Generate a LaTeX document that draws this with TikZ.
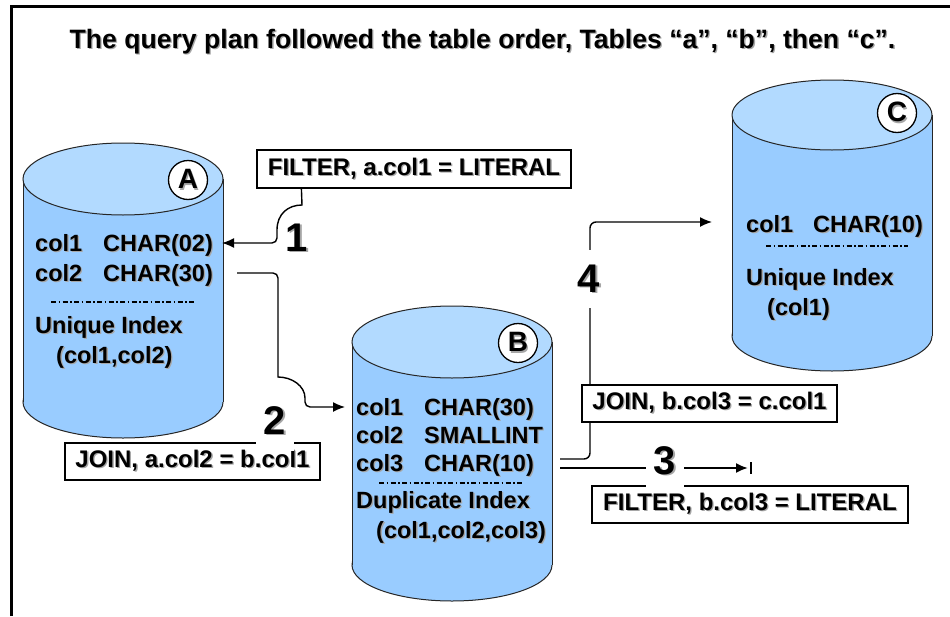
\documentclass[tikz,border=0pt]{standalone}
\usepackage{fontspec}
\setmainfont{Liberation Sans}
\usetikzlibrary{arrows.meta,calc}
\definecolor{cylbody}{RGB}{153,204,255}
\definecolor{cyltop}{RGB}{178,218,255}
\newcommand\shd[1]{\leavevmode\rlap{\kern1.3pt\raisebox{-1.3pt}{\color{black!35}#1}}#1}
\newcommand\drawcyl[5]{%
  \filldraw[fill=cylbody,draw=black!85,line width=1pt] (#1,#3) ellipse[x radius=#4pt,y radius=#5pt];
  \fill[cylbody] (#1-#4,#2) rectangle (#1+#4,#3);
  \draw[black!85,line width=1pt] (#1-#4,#2) -- (#1-#4,#3) (#1+#4,#2) -- (#1+#4,#3);
  \filldraw[fill=cyltop,draw=black!85,line width=1pt] (#1,#2) ellipse[x radius=#4pt,y radius=#5pt];
}
\begin{document}
\begin{tikzpicture}[x=1pt,y=-1pt,
  every node/.style={font=\bfseries},
  lbl/.style={draw=black,line width=1.2pt,fill=white,minimum height=37pt,inner sep=0pt,font=\fontsize{24}{26}\selectfont\bfseries},
  ctxt/.style={anchor=base west,inner sep=0pt,font=\fontsize{23.5}{26}\selectfont\bfseries},
  numl/.style={inner xsep=8pt,inner ysep=15pt,font=\fontsize{40}{44}\selectfont\bfseries},
  numf/.style={numl,fill=white},
  tag/.style={circle,draw=black,line width=1.3pt,fill=white,minimum size=39pt,inner sep=0pt,font=\fontsize{28}{30}\selectfont\bfseries},
  conn/.style={line width=1.4pt},
  tip/.style={-{Latex[length=12pt,width=10pt]}},
  idx/.style={line width=1.3pt,dash pattern=on 5pt off 2.5pt on 1.5pt off 2.5pt}
]
\useasboundingbox (0,0) rectangle (950,616);
\fill[white] (0,0) rectangle (950,616);
\draw[line width=3pt] (11,616) -- (11,6) -- (950,6);

\node (title) at (482.5,42) {\fontsize{26.6}{30}\selectfont\bfseries\shd{The query plan followed the table order, Tables “a”, “b”, then “c”.}};

% cylinders
\drawcyl{123}{179}{402}{100}{36}
\drawcyl{452}{342}{565}{100}{36}
\drawcyl{832}{115}{336}{100}{35}

\node[tag] (tA) at (188,180) {\shd{A}};
\node[tag] (tB) at (518,343) {\shd{B}};
\node[tag] (tC) at (897,113) {\shd{C}};

% table A
\node[ctxt] (a-l1) at (35,251) {\shd{\makebox[68pt][l]{col1}CHAR(02)}};
\node[ctxt] (a-l2) at (35,281) {\shd{\makebox[68pt][l]{col2}CHAR(30)}};
\draw[idx] (51,302) -- (194,302);
\node[ctxt] (a-l3) at (35,333) {\shd{Unique Index}};
\node[ctxt] (a-l4) at (56,363) {\shd{(col1,col2)}};

% table B
\node[ctxt] (b-l1) at (356,415) {\shd{\makebox[68pt][l]{col1}CHAR(30)}};
\node[ctxt] (b-l2) at (356,443) {\shd{\makebox[68pt][l]{col2}SMALLINT}};
\node[ctxt] (b-l3) at (356,471) {\shd{\makebox[68pt][l]{col3}CHAR(10)}};
\draw[idx] (379,483) -- (523,483);
\node[ctxt] (b-l4) at (356,508) {\shd{Duplicate Index}};
\node[ctxt] (b-l5) at (376,538) {\shd{(col1,col2,col3)}};

% table C
\node[ctxt] (c-l1) at (746,232) {\shd{\makebox[67pt][l]{col1}CHAR(10)}};
\draw[idx] (766,246) -- (908,246);
\node[ctxt] (c-l2) at (746,285) {\shd{Unique Index}};
\node[ctxt] (c-l3) at (767,315) {\shd{(col1)}};

% ports
\coordinate (a1) at (222,243);
\coordinate (a2) at (237,273);
\coordinate (b1) at (345,407);
\coordinate (b3) at (560,468);
\coordinate (b4) at (560,459);
\coordinate (c1) at (712,222);
\coordinate (e3) at (748,468);

% number 1 (drawn before its connector)
\node[numl] (n1) at (297,238) {\shd{1}};

% label box f1 (named first for its connector)
\path node[lbl,minimum width=314pt,minimum height=38pt] (f1) at (414,169) {\shd{FILTER, a.col1 = LITERAL}};

% connectors
\draw[conn,tip] ($(f1.south west)+(45,0)$) -- (302,205) .. controls (288,205) and (277,214) .. (277,230) [rounded corners=5pt] |- (a1);
\draw[conn,tip] (a2) [rounded corners=5pt] -| (278,300) [sharp corners] -- (278,377) .. controls (292,377) and (305,386) .. (305,398) [rounded corners=5pt] |- (b1);
\draw[line width=2pt,tip] (b3) -- (e3);
\draw[line width=1.2pt] ($(e3)+(3,-6)$) -- ($(e3)+(3,6)$);
\draw[conn,tip] (b4) [rounded corners=6pt] -| (590,300) |- (c1);

% label boxes
\node[lbl,minimum width=314pt,minimum height=38pt] at (f1) {\shd{FILTER, a.col1 = LITERAL}};
\node[lbl,minimum width=255pt] (j1) at (192.5,461.5) {\shd{JOIN, a.col2 = b.col1}};
\node[lbl,minimum width=255pt] (j2) at (709.5,403.5) {\shd{JOIN, b.col3 = c.col1}};
\node[lbl,minimum width=316pt] (f2) at (750,504.5) {\shd{FILTER, b.col3 = LITERAL}};

% numbers
\node[numf] (n2) at (275,421) {\shd{2}};
\node[numf] (n3) at (665,461) {\shd{3}};
\node[numf] (n4) at (589,279) {\shd{4}};
\end{tikzpicture}
\end{document}
